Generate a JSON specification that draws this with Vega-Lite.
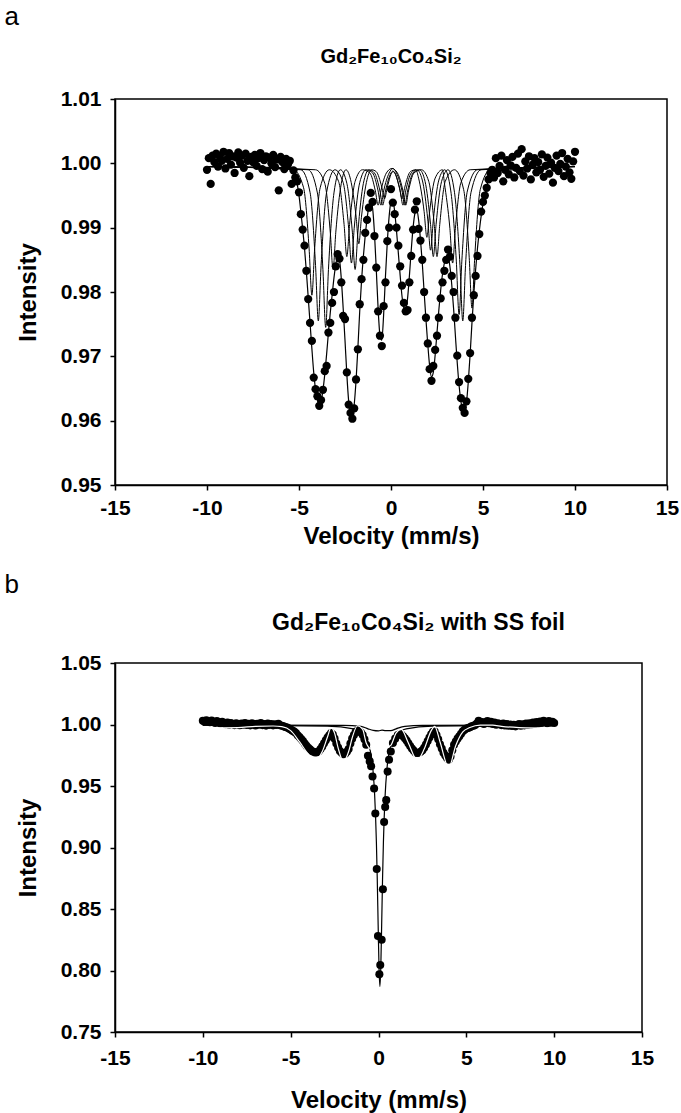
{
  "$schema": "https://vega.github.io/schema/vega-lite/v6.json",
  "padding": {"left": 4, "top": 4, "right": 5, "bottom": 3},
  "background": "white",
  "config": {
    "font": "Liberation Sans",
    "view": {"stroke": "black", "strokeWidth": 1.5},
    "axis": {"grid": false, "domainColor": "black", "domainWidth": 1.5, "tickColor": "black", "tickWidth": 1.5, "tickSize": 5, "labelFont": "Liberation Sans", "labelFontSize": 21, "labelFontWeight": "bold", "labelColor": "black", "labelFlush": false, "titleFont": "Liberation Sans", "titleFontSize": 24, "titleFontWeight": "bold", "titleColor": "black", "labelOverlap": false},
    "title": {"font": "Liberation Sans", "color": "black"}
  },
  "datasets": {
    "ap": [
      {"v":-10.0,"I":0.9990},{"v":-9.9,"I":1.0008},{"v":-9.8,"I":0.9968},{"v":-9.7,"I":1.0012},{"v":-9.6,"I":1.0002},{"v":-9.5,"I":1.0015},{"v":-9.4,"I":0.9995},{"v":-9.3,"I":1.0010},{"v":-9.2,"I":1.0004},{"v":-9.1,"I":1.0018},
      {"v":-9.0,"I":0.9992},{"v":-8.9,"I":1.0007},{"v":-8.8,"I":1.0016},{"v":-8.7,"I":0.9998},{"v":-8.6,"I":1.0011},{"v":-8.5,"I":0.9985},{"v":-8.4,"I":1.0009},{"v":-8.3,"I":1.0017},{"v":-8.2,"I":1.0001},{"v":-8.1,"I":1.0012},
      {"v":-8.0,"I":0.9993},{"v":-7.9,"I":1.0015},{"v":-7.8,"I":1.0004},{"v":-7.7,"I":0.9980},{"v":-7.6,"I":1.0010},{"v":-7.5,"I":1.0002},{"v":-7.4,"I":1.0013},{"v":-7.3,"I":0.9996},{"v":-7.2,"I":1.0008},{"v":-7.1,"I":1.0016},
      {"v":-7.0,"I":0.9991},{"v":-6.9,"I":1.0005},{"v":-6.8,"I":1.0011},{"v":-6.7,"I":0.9987},{"v":-6.6,"I":1.0009},{"v":-6.5,"I":1.0000},{"v":-6.4,"I":1.0013},{"v":-6.3,"I":0.9994},{"v":-6.2,"I":1.0006},{"v":-6.1,"I":0.9958},
      {"v":-6.0,"I":1.0010},{"v":-5.9,"I":1.0002},{"v":-5.8,"I":0.9991},{"v":-5.7,"I":1.0007},{"v":-5.6,"I":0.9998},{"v":-5.5,"I":1.0004},{"v":-5.4,"I":0.9968},{"v":-5.3,"I":0.9989},{"v":-5.2,"I":0.9978},{"v":-5.1,"I":0.9972},
      {"v":-5.0,"I":0.9955},{"v":-4.9,"I":0.9921},{"v":-4.8,"I":0.9897},{"v":-4.7,"I":0.9872},{"v":-4.6,"I":0.9833},{"v":-4.5,"I":0.9789},{"v":-4.4,"I":0.9752},{"v":-4.3,"I":0.9724},{"v":-4.2,"I":0.9667},{"v":-4.1,"I":0.9649},
      {"v":-4.0,"I":0.9638},{"v":-3.9,"I":0.9623},{"v":-3.8,"I":0.9632},{"v":-3.7,"I":0.9648},{"v":-3.6,"I":0.9677},{"v":-3.5,"I":0.9685},{"v":-3.4,"I":0.9737},{"v":-3.3,"I":0.9752},{"v":-3.2,"I":0.9783},{"v":-3.1,"I":0.9800},
      {"v":-3.0,"I":0.9840},{"v":-2.9,"I":0.9859},{"v":-2.8,"I":0.9852},{"v":-2.7,"I":0.9815},{"v":-2.6,"I":0.9763},{"v":-2.5,"I":0.9758},{"v":-2.4,"I":0.9675},{"v":-2.3,"I":0.9625},{"v":-2.2,"I":0.9612},{"v":-2.1,"I":0.9603},
      {"v":-2.0,"I":0.9619},{"v":-1.9,"I":0.9664},{"v":-1.8,"I":0.9711},{"v":-1.7,"I":0.9781},{"v":-1.6,"I":0.9820},{"v":-1.5,"I":0.9850},{"v":-1.4,"I":0.9892},{"v":-1.3,"I":0.9912},{"v":-1.2,"I":0.9931},{"v":-1.1,"I":0.9954},
      {"v":-1.0,"I":0.9940},{"v":-0.9,"I":0.9887},{"v":-0.8,"I":0.9838},{"v":-0.7,"I":0.9770},{"v":-0.6,"I":0.9732},{"v":-0.5,"I":0.9716},{"v":-0.4,"I":0.9778},{"v":-0.3,"I":0.9815},{"v":-0.2,"I":0.9879},{"v":-0.1,"I":0.9900},
      {"v":0.0,"I":0.9960},{"v":0.1,"I":0.9939},{"v":0.2,"I":0.9921},{"v":0.3,"I":0.9900},{"v":0.4,"I":0.9872},{"v":0.5,"I":0.9840},{"v":0.6,"I":0.9810},{"v":0.7,"I":0.9783},{"v":0.8,"I":0.9770},{"v":0.9,"I":0.9772},
      {"v":1.0,"I":0.9815},{"v":1.1,"I":0.9856},{"v":1.2,"I":0.9897},{"v":1.3,"I":0.9928},{"v":1.4,"I":0.9941},{"v":1.5,"I":0.9898},{"v":1.6,"I":0.9880},{"v":1.7,"I":0.9850},{"v":1.8,"I":0.9800},{"v":1.9,"I":0.9760},
      {"v":2.0,"I":0.9720},{"v":2.1,"I":0.9680},{"v":2.2,"I":0.9662},{"v":2.3,"I":0.9685},{"v":2.4,"I":0.9710},{"v":2.5,"I":0.9732},{"v":2.6,"I":0.9760},{"v":2.7,"I":0.9790},{"v":2.8,"I":0.9815},{"v":2.9,"I":0.9833},
      {"v":3.0,"I":0.9850},{"v":3.1,"I":0.9866},{"v":3.2,"I":0.9855},{"v":3.3,"I":0.9825},{"v":3.4,"I":0.9800},{"v":3.5,"I":0.9760},{"v":3.6,"I":0.9701},{"v":3.7,"I":0.9660},{"v":3.8,"I":0.9635},{"v":3.9,"I":0.9620},
      {"v":4.0,"I":0.9612},{"v":4.1,"I":0.9630},{"v":4.2,"I":0.9665},{"v":4.3,"I":0.9705},{"v":4.4,"I":0.9760},{"v":4.5,"I":0.9795},{"v":4.6,"I":0.9825},{"v":4.7,"I":0.9856},{"v":4.8,"I":0.9890},{"v":4.9,"I":0.9925},
      {"v":5.0,"I":0.9940},{"v":5.1,"I":0.9950},{"v":5.2,"I":0.9962},{"v":5.3,"I":0.9975},{"v":5.4,"I":0.9985},{"v":5.5,"I":0.9990},{"v":5.6,"I":0.9978},{"v":5.7,"I":1.0008},{"v":5.8,"I":0.9985},{"v":5.9,"I":0.9996},
      {"v":6.0,"I":1.0012},{"v":6.1,"I":0.9972},{"v":6.2,"I":0.9990},{"v":6.3,"I":1.0005},{"v":6.4,"I":0.9983},{"v":6.5,"I":0.9997},{"v":6.6,"I":1.0010},{"v":6.7,"I":0.9978},{"v":6.8,"I":0.9993},{"v":6.9,"I":1.0015},
      {"v":7.0,"I":0.9988},{"v":7.1,"I":1.0022},{"v":7.2,"I":0.9981},{"v":7.3,"I":1.0003},{"v":7.4,"I":0.9992},{"v":7.5,"I":1.0011},{"v":7.6,"I":0.9975},{"v":7.7,"I":0.9998},{"v":7.8,"I":1.0008},{"v":7.9,"I":0.9986},
      {"v":8.0,"I":1.0002},{"v":8.1,"I":0.9990},{"v":8.2,"I":1.0014},{"v":8.3,"I":0.9979},{"v":8.4,"I":0.9996},{"v":8.5,"I":1.0009},{"v":8.6,"I":0.9984},{"v":8.7,"I":1.0001},{"v":8.8,"I":0.9970},{"v":8.9,"I":0.9993},
      {"v":9.0,"I":1.0012},{"v":9.1,"I":0.9988},{"v":9.2,"I":0.9999},{"v":9.3,"I":1.0016},{"v":9.4,"I":0.9980},{"v":9.5,"I":0.9995},{"v":9.6,"I":1.0007},{"v":9.7,"I":0.9986},{"v":9.8,"I":0.9976},{"v":9.9,"I":1.0003},
      {"v":10.0,"I":1.0018}
    ],
    "af": [
      {"v":-10,"I":0.9995},{"v":-5.5,"I":0.9993},{"v":-5.3,"I":0.9985},{"v":-5.2,"I":0.9978},{"v":-5.1,"I":0.9968},{"v":-5.0,"I":0.9950},{"v":-4.9,"I":0.9925},{"v":-4.8,"I":0.9898},{"v":-4.7,"I":0.9868},{"v":-4.6,"I":0.9832},
      {"v":-4.5,"I":0.9792},{"v":-4.4,"I":0.9752},{"v":-4.3,"I":0.9712},{"v":-4.2,"I":0.9675},{"v":-4.1,"I":0.9648},{"v":-4.0,"I":0.9632},{"v":-3.9,"I":0.9625},{"v":-3.8,"I":0.9630},{"v":-3.7,"I":0.9647},{"v":-3.6,"I":0.9672},
      {"v":-3.5,"I":0.9703},{"v":-3.4,"I":0.9737},{"v":-3.3,"I":0.9768},{"v":-3.2,"I":0.9795},{"v":-3.1,"I":0.9822},{"v":-3.0,"I":0.9843},{"v":-2.9,"I":0.9855},{"v":-2.8,"I":0.9850},{"v":-2.7,"I":0.9820},{"v":-2.6,"I":0.9775},
      {"v":-2.5,"I":0.9725},{"v":-2.4,"I":0.9672},{"v":-2.3,"I":0.9630},{"v":-2.2,"I":0.9608},{"v":-2.1,"I":0.9606},{"v":-2.0,"I":0.9625},{"v":-1.9,"I":0.9662},{"v":-1.8,"I":0.9713},{"v":-1.7,"I":0.9770},{"v":-1.6,"I":0.9818},
      {"v":-1.5,"I":0.9856},{"v":-1.4,"I":0.9888},{"v":-1.3,"I":0.9914},{"v":-1.2,"I":0.9933},{"v":-1.1,"I":0.9940},{"v":-1.0,"I":0.9930},{"v":-0.9,"I":0.9892},{"v":-0.8,"I":0.9835},{"v":-0.7,"I":0.9774},{"v":-0.6,"I":0.9733},
      {"v":-0.5,"I":0.9725},{"v":-0.4,"I":0.9765},{"v":-0.3,"I":0.9825},{"v":-0.2,"I":0.9878},{"v":-0.1,"I":0.9918},{"v":0.0,"I":0.9940},{"v":0.1,"I":0.9942},{"v":0.2,"I":0.9925},{"v":0.3,"I":0.9895},{"v":0.4,"I":0.9860},
      {"v":0.5,"I":0.9825},{"v":0.6,"I":0.9793},{"v":0.7,"I":0.9775},{"v":0.8,"I":0.9772},{"v":0.9,"I":0.9790},{"v":1.0,"I":0.9825},{"v":1.1,"I":0.9865},{"v":1.2,"I":0.9900},{"v":1.3,"I":0.9922},{"v":1.4,"I":0.9928},
      {"v":1.5,"I":0.9912},{"v":1.6,"I":0.9882},{"v":1.7,"I":0.9845},{"v":1.8,"I":0.9800},{"v":1.9,"I":0.9757},{"v":2.0,"I":0.9718},{"v":2.1,"I":0.9685},{"v":2.2,"I":0.9668},{"v":2.3,"I":0.9675},{"v":2.4,"I":0.9702},
      {"v":2.5,"I":0.9737},{"v":2.6,"I":0.9772},{"v":2.7,"I":0.9803},{"v":2.8,"I":0.9828},{"v":2.9,"I":0.9845},{"v":3.0,"I":0.9855},{"v":3.1,"I":0.9855},{"v":3.2,"I":0.9840},{"v":3.3,"I":0.9812},{"v":3.4,"I":0.9775},
      {"v":3.5,"I":0.9732},{"v":3.6,"I":0.9690},{"v":3.7,"I":0.9655},{"v":3.8,"I":0.9630},{"v":3.9,"I":0.9617},{"v":4.0,"I":0.9615},{"v":4.1,"I":0.9628},{"v":4.2,"I":0.9660},{"v":4.3,"I":0.9703},{"v":4.4,"I":0.9752},
      {"v":4.5,"I":0.9797},{"v":4.6,"I":0.9835},{"v":4.7,"I":0.9868},{"v":4.8,"I":0.9895},{"v":4.9,"I":0.9918},{"v":5.0,"I":0.9937},{"v":5.1,"I":0.9952},{"v":5.2,"I":0.9964},{"v":5.3,"I":0.9975},{"v":5.5,"I":0.9987},
      {"v":10,"I":0.9995}
    ],
    "as": [
      {"s":"S1","v":-10,"I":0.9995},{"s":"S1","v":-5.3,"I":0.9990},{"s":"S1","v":-4.75,"I":0.9962},{"s":"S1","v":-4.45,"I":0.9867},{"s":"S1","v":-4.30,"I":0.9795},{"s":"S1","v":-4.15,"I":0.9867},{"s":"S1","v":-3.85,"I":0.9962},{"s":"S1","v":-3.35,"I":0.9990},
      {"s":"S1","v":-2.85,"I":0.9972},{"s":"S1","v":-2.55,"I":0.9905},{"s":"S1","v":-2.40,"I":0.9855},{"s":"S1","v":-2.25,"I":0.9905},{"s":"S1","v":-1.95,"I":0.9972},{"s":"S1","v":-1.55,"I":0.9990},
      {"s":"S1","v":-1.15,"I":0.9985},{"s":"S1","v":-0.85,"I":0.9957},{"s":"S1","v":-0.70,"I":0.9935},{"s":"S1","v":-0.55,"I":0.9957},{"s":"S1","v":-0.25,"I":0.9985},{"s":"S1","v":0.05,"I":0.9992},
      {"s":"S1","v":0.35,"I":0.9985},{"s":"S1","v":0.65,"I":0.9957},{"s":"S1","v":0.80,"I":0.9935},{"s":"S1","v":0.95,"I":0.9957},{"s":"S1","v":1.25,"I":0.9985},{"s":"S1","v":1.65,"I":0.9990},
      {"s":"S1","v":2.05,"I":0.9972},{"s":"S1","v":2.35,"I":0.9905},{"s":"S1","v":2.50,"I":0.9855},{"s":"S1","v":2.65,"I":0.9905},{"s":"S1","v":2.95,"I":0.9972},{"s":"S1","v":3.45,"I":0.9990},
      {"s":"S1","v":3.95,"I":0.9959},{"s":"S1","v":4.25,"I":0.9854},{"s":"S1","v":4.40,"I":0.9775},{"s":"S1","v":4.55,"I":0.9854},{"s":"S1","v":4.85,"I":0.9959},{"s":"S1","v":5.4,"I":0.9990},{"s":"S1","v":10,"I":0.9995},
      {"s":"S2","v":-10,"I":0.9995},{"s":"S2","v":-4.9,"I":0.9990},{"s":"S2","v":-4.40,"I":0.9955},{"s":"S2","v":-4.10,"I":0.9841},{"s":"S2","v":-3.95,"I":0.9755},{"s":"S2","v":-3.80,"I":0.9841},{"s":"S2","v":-3.50,"I":0.9955},{"s":"S2","v":-3.05,"I":0.9990},
      {"s":"S2","v":-2.60,"I":0.9970},{"s":"S2","v":-2.30,"I":0.9899},{"s":"S2","v":-2.15,"I":0.9845},{"s":"S2","v":-2.00,"I":0.9899},{"s":"S2","v":-1.70,"I":0.9970},{"s":"S2","v":-1.35,"I":0.9990},
      {"s":"S2","v":-1.00,"I":0.9985},{"s":"S2","v":-0.70,"I":0.9957},{"s":"S2","v":-0.55,"I":0.9935},{"s":"S2","v":-0.40,"I":0.9957},{"s":"S2","v":-0.10,"I":0.9985},{"s":"S2","v":0.10,"I":0.9992},
      {"s":"S2","v":0.30,"I":0.9985},{"s":"S2","v":0.60,"I":0.9957},{"s":"S2","v":0.75,"I":0.9935},{"s":"S2","v":0.90,"I":0.9957},{"s":"S2","v":1.20,"I":0.9985},{"s":"S2","v":1.55,"I":0.9990},
      {"s":"S2","v":1.85,"I":0.9972},{"s":"S2","v":2.15,"I":0.9905},{"s":"S2","v":2.30,"I":0.9855},{"s":"S2","v":2.45,"I":0.9905},{"s":"S2","v":2.75,"I":0.9972},{"s":"S2","v":3.10,"I":0.9990},
      {"s":"S2","v":3.45,"I":0.9955},{"s":"S2","v":3.75,"I":0.9841},{"s":"S2","v":3.90,"I":0.9755},{"s":"S2","v":4.05,"I":0.9841},{"s":"S2","v":4.35,"I":0.9955},{"s":"S2","v":4.9,"I":0.9990},{"s":"S2","v":10,"I":0.9995},
      {"s":"S3","v":-10,"I":0.9995},{"s":"S3","v":-4.5,"I":0.9990},{"s":"S3","v":-4.00,"I":0.9954},{"s":"S3","v":-3.70,"I":0.9835},{"s":"S3","v":-3.55,"I":0.9745},{"s":"S3","v":-3.40,"I":0.9835},{"s":"S3","v":-3.10,"I":0.9954},{"s":"S3","v":-2.75,"I":0.9990},
      {"s":"S3","v":-2.40,"I":0.9969},{"s":"S3","v":-2.10,"I":0.9893},{"s":"S3","v":-1.95,"I":0.9835},{"s":"S3","v":-1.80,"I":0.9893},{"s":"S3","v":-1.50,"I":0.9969},{"s":"S3","v":-1.20,"I":0.9990},
      {"s":"S3","v":-0.90,"I":0.9985},{"s":"S3","v":-0.60,"I":0.9957},{"s":"S3","v":-0.45,"I":0.9935},{"s":"S3","v":-0.30,"I":0.9957},{"s":"S3","v":0.00,"I":0.9985},{"s":"S3","v":0.10,"I":0.9988},
      {"s":"S3","v":0.20,"I":0.9985},{"s":"S3","v":0.50,"I":0.9957},{"s":"S3","v":0.65,"I":0.9935},{"s":"S3","v":0.80,"I":0.9957},{"s":"S3","v":1.10,"I":0.9985},{"s":"S3","v":1.40,"I":0.9990},
      {"s":"S3","v":1.70,"I":0.9974},{"s":"S3","v":2.00,"I":0.9912},{"s":"S3","v":2.15,"I":0.9865},{"s":"S3","v":2.30,"I":0.9912},{"s":"S3","v":2.60,"I":0.9974},{"s":"S3","v":2.92,"I":0.9990},
      {"s":"S3","v":3.25,"I":0.9957},{"s":"S3","v":3.55,"I":0.9848},{"s":"S3","v":3.70,"I":0.9765},{"s":"S3","v":3.85,"I":0.9848},{"s":"S3","v":4.15,"I":0.9957},{"s":"S3","v":4.7,"I":0.9990},{"s":"S3","v":10,"I":0.9995},
      {"s":"S4","v":-10,"I":0.9995},{"s":"S4","v":-4.1,"I":0.9990},{"s":"S4","v":-3.60,"I":0.9969},{"s":"S4","v":-3.30,"I":0.9893},{"s":"S4","v":-3.15,"I":0.9835},{"s":"S4","v":-3.00,"I":0.9893},{"s":"S4","v":-2.70,"I":0.9969},{"s":"S4","v":-2.45,"I":0.9990},
      {"s":"S4","v":-2.20,"I":0.9975},{"s":"S4","v":-1.90,"I":0.9918},{"s":"S4","v":-1.75,"I":0.9875},{"s":"S4","v":-1.60,"I":0.9918},{"s":"S4","v":-1.30,"I":0.9975},{"s":"S4","v":-1.05,"I":0.9990},
      {"s":"S4","v":-0.80,"I":0.9987},{"s":"S4","v":-0.50,"I":0.9963},{"s":"S4","v":-0.35,"I":0.9945},{"s":"S4","v":-0.20,"I":0.9963},{"s":"S4","v":0.10,"I":0.9987},
      {"s":"S4","v":0.15,"I":0.9987},{"s":"S4","v":0.45,"I":0.9963},{"s":"S4","v":0.60,"I":0.9945},{"s":"S4","v":0.75,"I":0.9963},{"s":"S4","v":1.05,"I":0.9987},{"s":"S4","v":1.35,"I":0.9990},
      {"s":"S4","v":1.50,"I":0.9977},{"s":"S4","v":1.80,"I":0.9925},{"s":"S4","v":1.95,"I":0.9885},{"s":"S4","v":2.10,"I":0.9925},{"s":"S4","v":2.40,"I":0.9977},{"s":"S4","v":2.80,"I":0.9990},
      {"s":"S4","v":2.90,"I":0.9970},{"s":"S4","v":3.20,"I":0.9899},{"s":"S4","v":3.35,"I":0.9845},{"s":"S4","v":3.50,"I":0.9899},{"s":"S4","v":3.80,"I":0.9970},{"s":"S4","v":4.3,"I":0.9990},{"s":"S4","v":10,"I":0.9995}
    ],
    "bp": [
      {"v":-10.0,"I":1.0030},{"v":-9.9,"I":1.0022},{"v":-9.8,"I":1.0035},{"v":-9.7,"I":1.0025},{"v":-9.6,"I":1.0018},{"v":-9.5,"I":1.0032},{"v":-9.4,"I":1.0021},{"v":-9.3,"I":1.0012},{"v":-9.2,"I":1.0028},{"v":-9.1,"I":1.0016},
      {"v":-9.0,"I":1.0008},{"v":-8.9,"I":1.0022},{"v":-8.8,"I":1.0010},{"v":-8.7,"I":1.0003},{"v":-8.6,"I":1.0017},{"v":-8.5,"I":0.9998},{"v":-8.4,"I":1.0012},{"v":-8.3,"I":1.0004},{"v":-8.2,"I":0.9995},{"v":-8.1,"I":1.0010},
      {"v":-8.0,"I":1.0002},{"v":-7.9,"I":0.9994},{"v":-7.8,"I":1.0008},{"v":-7.7,"I":0.9999},{"v":-7.6,"I":1.0012},{"v":-7.5,"I":0.9996},{"v":-7.4,"I":1.0005},{"v":-7.3,"I":0.9993},{"v":-7.2,"I":1.0010},{"v":-7.1,"I":1.0001},
      {"v":-7.0,"I":0.9992},{"v":-6.9,"I":1.0006},{"v":-6.8,"I":0.9998},{"v":-6.7,"I":1.0011},{"v":-6.6,"I":0.9995},{"v":-6.5,"I":1.0003},{"v":-6.4,"I":0.9991},{"v":-6.3,"I":1.0007},{"v":-6.2,"I":0.9997},{"v":-6.1,"I":1.0004},
      {"v":-6.0,"I":0.9993},{"v":-5.9,"I":1.0001},{"v":-5.8,"I":0.9996},{"v":-5.7,"I":1.0005},{"v":-5.6,"I":0.9994},{"v":-5.5,"I":0.9990},{"v":-5.4,"I":0.9985},{"v":-5.3,"I":0.9980},{"v":-5.2,"I":0.9975},{"v":-5.1,"I":0.9968},
      {"v":-5.0,"I":0.9960},{"v":-4.9,"I":0.9950},{"v":-4.8,"I":0.9942},{"v":-4.7,"I":0.9930},{"v":-4.6,"I":0.9912},{"v":-4.5,"I":0.9898},{"v":-4.4,"I":0.9882},{"v":-4.3,"I":0.9865},{"v":-4.2,"I":0.9845},{"v":-4.1,"I":0.9826},
      {"v":-4.0,"I":0.9810},{"v":-3.9,"I":0.9798},{"v":-3.8,"I":0.9785},{"v":-3.7,"I":0.9778},{"v":-3.6,"I":0.9772},{"v":-3.5,"I":0.9775},{"v":-3.4,"I":0.9782},{"v":-3.3,"I":0.9800},{"v":-3.2,"I":0.9822},{"v":-3.1,"I":0.9848},
      {"v":-3.0,"I":0.9872},{"v":-2.9,"I":0.9895},{"v":-2.8,"I":0.9912},{"v":-2.7,"I":0.9930},{"v":-2.6,"I":0.9918},{"v":-2.5,"I":0.9885},{"v":-2.4,"I":0.9845},{"v":-2.3,"I":0.9812},{"v":-2.2,"I":0.9785},{"v":-2.1,"I":0.9770},
      {"v":-2.0,"I":0.9758},{"v":-1.9,"I":0.9762},{"v":-1.8,"I":0.9778},{"v":-1.7,"I":0.9800},{"v":-1.6,"I":0.9845},{"v":-1.5,"I":0.9885},{"v":-1.4,"I":0.9915},{"v":-1.3,"I":0.9940},{"v":-1.2,"I":0.9948},{"v":-1.1,"I":0.9945},
      {"v":-1.0,"I":0.9935},{"v":-0.9,"I":0.9915},{"v":-0.8,"I":0.9880},{"v":-0.7,"I":0.9836},{"v":-0.6,"I":0.9745},{"v":-0.5,"I":0.9700},{"v":-0.42,"I":0.9660},{"v":-0.34,"I":0.9577},{"v":-0.25,"I":0.9480},{"v":-0.18,"I":0.9276},
      {"v":-0.10,"I":0.8825},{"v":-0.03,"I":0.8280},{"v":0.05,"I":0.7970},{"v":0.10,"I":0.8045},{"v":0.18,"I":0.8250},{"v":0.25,"I":0.8660},{"v":0.32,"I":0.9208},{"v":0.38,"I":0.9330},{"v":0.44,"I":0.9385},{"v":0.52,"I":0.9617},
      {"v":0.60,"I":0.9713},{"v":0.70,"I":0.9780},{"v":0.82,"I":0.9850},{"v":0.95,"I":0.9885},{"v":1.1,"I":0.9915},{"v":1.2,"I":0.9920},{"v":1.3,"I":0.9918},{"v":1.4,"I":0.9905},{"v":1.5,"I":0.9888},{"v":1.6,"I":0.9870},
      {"v":1.7,"I":0.9848},{"v":1.8,"I":0.9825},{"v":1.9,"I":0.9805},{"v":2.0,"I":0.9788},{"v":2.1,"I":0.9772},{"v":2.2,"I":0.9768},{"v":2.3,"I":0.9770},{"v":2.4,"I":0.9778},{"v":2.5,"I":0.9790},{"v":2.6,"I":0.9810},
      {"v":2.7,"I":0.9838},{"v":2.8,"I":0.9865},{"v":2.9,"I":0.9895},{"v":3.0,"I":0.9920},{"v":3.1,"I":0.9940},{"v":3.2,"I":0.9942},{"v":3.3,"I":0.9915},{"v":3.4,"I":0.9880},{"v":3.5,"I":0.9840},{"v":3.6,"I":0.9805},
      {"v":3.7,"I":0.9770},{"v":3.8,"I":0.9748},{"v":3.9,"I":0.9728},{"v":4.0,"I":0.9713},{"v":4.1,"I":0.9740},{"v":4.2,"I":0.9790},{"v":4.3,"I":0.9835},{"v":4.4,"I":0.9862},{"v":4.5,"I":0.9885},{"v":4.6,"I":0.9904},
      {"v":4.7,"I":0.9925},{"v":4.8,"I":0.9945},{"v":4.9,"I":0.9958},{"v":5.0,"I":0.9968},{"v":5.1,"I":0.9972},{"v":5.2,"I":0.9978},{"v":5.3,"I":0.9985},{"v":5.4,"I":0.9990},{"v":5.5,"I":0.9995},{"v":5.6,"I":1.0008},
      {"v":5.7,"I":1.0030},{"v":5.8,"I":1.0012},{"v":5.9,"I":1.0020},{"v":6.0,"I":1.0005},{"v":6.1,"I":1.0018},{"v":6.2,"I":1.0028},{"v":6.3,"I":1.0010},{"v":6.4,"I":1.0022},{"v":6.5,"I":1.0004},{"v":6.6,"I":1.0015},
      {"v":6.7,"I":0.9998},{"v":6.8,"I":1.0010},{"v":6.9,"I":1.0002},{"v":7.0,"I":0.9995},{"v":7.1,"I":1.0008},{"v":7.2,"I":0.9992},{"v":7.3,"I":1.0003},{"v":7.4,"I":0.9990},{"v":7.5,"I":1.0000},{"v":7.6,"I":0.9988},
      {"v":7.7,"I":0.9998},{"v":7.8,"I":0.9985},{"v":7.9,"I":0.9995},{"v":8.0,"I":1.0004},{"v":8.1,"I":0.9990},{"v":8.2,"I":1.0002},{"v":8.3,"I":0.9993},{"v":8.4,"I":1.0008},{"v":8.5,"I":0.9996},{"v":8.6,"I":1.0010},
      {"v":8.7,"I":1.0000},{"v":8.8,"I":1.0015},{"v":8.9,"I":1.0005},{"v":9.0,"I":1.0020},{"v":9.1,"I":1.0008},{"v":9.2,"I":1.0025},{"v":9.3,"I":1.0012},{"v":9.4,"I":1.0030},{"v":9.5,"I":1.0018},{"v":9.6,"I":1.0010},
      {"v":9.7,"I":1.0028},{"v":9.8,"I":1.0015},{"v":9.9,"I":1.0022},{"v":10.0,"I":1.0012}
    ],
    "bk": [
      {"s":"L1","v":-10,"I":0.9995},{"s":"L1","v":-2,"I":0.9993},{"s":"L1","v":-1.0,"I":0.9985},{"s":"L1","v":-0.6,"I":0.9965},{"s":"L1","v":-0.3,"I":0.9952},{"s":"L1","v":0.0,"I":0.9948},{"s":"L1","v":0.2,"I":0.9955},{"s":"L1","v":0.4,"I":0.9950},{"s":"L1","v":0.7,"I":0.9950},{"s":"L1","v":1.0,"I":0.9965},{"s":"L1","v":1.5,"I":0.9985},{"s":"L1","v":2.5,"I":0.9993},{"s":"L1","v":10,"I":0.9995},
      {"s":"L2","v":-10,"I":0.9995},{"s":"L2","v":-2.92,"I":0.9987},{"s":"L2","v":-1.42,"I":0.9965},{"s":"L2","v":-0.82,"I":0.9913},{"s":"L2","v":-0.52,"I":0.9819},{"s":"L2","v":-0.32,"I":0.9638},{"s":"L2","v":-0.22,"I":0.943},{"s":"L2","v":-0.12,"I":0.9045},{"s":"L2","v":-0.07,"I":0.874},{"s":"L2","v":-0.02,"I":0.837},{"s":"L2","v":0.03,"I":0.8022},{"s":"L2","v":0.08,"I":0.787},
      {"s":"L2","v":0.13,"I":0.8022},{"s":"L2","v":0.18,"I":0.837},{"s":"L2","v":0.23,"I":0.874},{"s":"L2","v":0.28,"I":0.9045},{"s":"L2","v":0.38,"I":0.943},{"s":"L2","v":0.48,"I":0.9638},{"s":"L2","v":0.68,"I":0.9819},{"s":"L2","v":0.98,"I":0.9913},{"s":"L2","v":1.58,"I":0.9965},{"s":"L2","v":3.08,"I":0.9987},{"s":"L2","v":10,"I":0.9995}
    ],
    "bw": [
      {"v":-10,"I":0.9972},{"v":-8,"I":0.9975},{"v":-7,"I":0.9985},{"v":-6,"I":0.9988},{"v":-5.5,"I":0.9982},{"v":-5.0,"I":0.9950},{"v":-4.5,"I":0.9860},{"v":-4.0,"I":0.9760},{"v":-3.6,"I":0.9712},{"v":-3.2,"I":0.9780},
      {"v":-2.9,"I":0.9900},{"v":-2.7,"I":0.9975},{"v":-2.5,"I":0.9930},{"v":-2.3,"I":0.9810},{"v":-2.0,"I":0.9700},{"v":-1.7,"I":0.9780},{"v":-1.5,"I":0.9890},{"v":-1.2,"I":0.9990},{"v":-0.9,"I":0.9960},{"v":-0.7,"I":0.9850},
      {"v":-0.4,"I":0.9800},{"v":0.0,"I":0.9840},{"v":0.4,"I":0.9810},{"v":0.7,"I":0.9830},{"v":1.0,"I":0.9930},{"v":1.3,"I":0.9960},{"v":1.7,"I":0.9850},{"v":2.2,"I":0.9710},{"v":2.6,"I":0.9800},{"v":3.0,"I":0.9950},
      {"v":3.2,"I":0.9985},{"v":3.5,"I":0.9860},{"v":4.0,"I":0.9650},{"v":4.4,"I":0.9830},{"v":4.8,"I":0.9940},{"v":5.2,"I":0.9975},{"v":5.8,"I":0.9995},{"v":6.5,"I":0.9995},{"v":7.0,"I":0.9985},{"v":8.0,"I":0.9975},
      {"v":10,"I":0.9970}
    ]
  },
  "spacing": 23,
  "vconcat": [
    {
      "title": {"text": "a", "anchor": "start", "frame": "bounds", "fontSize": 26, "fontWeight": "normal", "offset": 16, "dx": -11},
      "vconcat": [
        {
          "title": {"text": "Gd₂Fe₁₀Co₄Si₂", "anchor": "middle", "frame": "group", "fontSize": 20, "fontWeight": "bold", "offset": 21},
          "width": 552,
          "height": 386,
          "encoding": {
            "x": {"field": "v", "type": "quantitative", "scale": {"domain": [-15, 15], "nice": false}, "axis": {"values": [-15, -10, -5, 0, 5, 10, 15], "labelExpr": "'' + datum.value", "title": "Velocity (mm/s)", "labelPadding": 7, "titlePadding": 6}},
            "y": {"field": "I", "type": "quantitative", "scale": {"domain": [0.95, 1.01], "nice": false, "zero": false}, "axis": {"values": [0.95, 0.96, 0.97, 0.98, 0.99, 1.0, 1.01], "format": ".2f", "title": "Intensity", "labelPadding": 9, "titlePadding": 20}}
          },
          "layer": [
            {"data": {"name": "as"}, "mark": {"type": "line", "color": "black", "strokeWidth": 1, "interpolate": "monotone"}, "encoding": {"detail": {"field": "s"}}},
            {"data": {"name": "af"}, "mark": {"type": "line", "color": "black", "strokeWidth": 1.2, "interpolate": "monotone"}, "encoding": {}},
            {"data": {"name": "ap"}, "mark": {"type": "circle", "color": "black", "opacity": 1, "size": 68}, "encoding": {}}
          ]
        }
      ]
    },
    {
      "title": {"text": "b", "anchor": "start", "frame": "bounds", "fontSize": 26, "fontWeight": "normal", "offset": 13, "dx": -11},
      "vconcat": [
        {
          "title": {"text": "Gd₂Fe₁₀Co₄Si₂ with SS foil", "anchor": "middle", "frame": "group", "fontSize": 23, "fontWeight": "bold", "offset": 17, "dx": 40},
          "width": 527,
          "height": 369,
          "encoding": {
            "x": {"field": "v", "type": "quantitative", "scale": {"domain": [-15, 15], "nice": false}, "axis": {"values": [-15, -10, -5, 0, 5, 10, 15], "labelExpr": "'' + datum.value", "title": "Velocity (mm/s)", "labelPadding": 10, "titlePadding": 20}},
            "y": {"field": "I", "type": "quantitative", "scale": {"domain": [0.75, 1.05], "nice": false, "zero": false}, "axis": {"values": [0.75, 0.8, 0.85, 0.9, 0.95, 1.0, 1.05], "format": ".2f", "title": "Intensity", "labelPadding": 9, "titlePadding": 20}}
          },
          "layer": [
            {"data": {"name": "bp"}, "mark": {"type": "circle", "color": "black", "opacity": 1, "size": 65}, "encoding": {}},
            {"data": {"name": "bk"}, "mark": {"type": "line", "color": "black", "strokeWidth": 1.2, "interpolate": "monotone"}, "encoding": {"detail": {"field": "s"}}},
            {"data": {"name": "bw"}, "mark": {"type": "line", "color": "white", "strokeWidth": 1.2, "interpolate": "monotone"}, "encoding": {}}
          ]
        }
      ]
    }
  ]
}
